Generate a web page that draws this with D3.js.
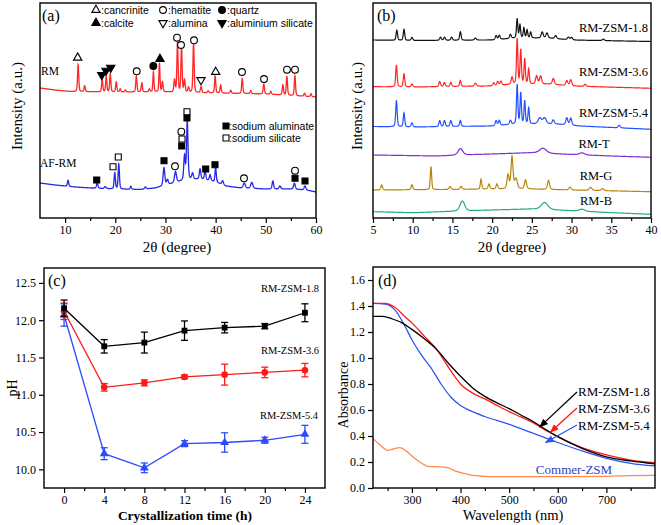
<!DOCTYPE html>
<html><head><meta charset="utf-8">
<script src="https://cdn.jsdelivr.net/npm/d3@7"></script>
<style>body{margin:0;background:#fff}</style>
</head><body><svg id="c" width="661" height="525"></svg>
<script>
// ---------------- DATA ----------------
// (a) XRD: baselines [2theta, intensity], peaks [2theta, height, fwhm]
const rmBase = [[5,130],[8,128],[11,126.5],[20,126],[30,126],[40,125],[50,124],[60,121]];
const rmPeaks = [[12.6,27,0.28],[13.9,6,0.28],[17.4,12,0.28],[18.2,15,0.28],[19.0,18,0.28],[20.2,10,0.28],[21.0,3,0.3],[22.0,2,0.3],[24.2,16,0.28],[25.3,9,0.28],[26.8,3,0.3],[27.6,20,0.25],[28.8,29,0.25],[29.4,10,0.28],[31.8,12,0.3],[32.4,50,0.28],[33.2,45,0.28],[33.8,12,0.3],[34.6,5,0.3],[35.6,50,0.28],[37.1,6,0.3],[38.5,2,0.3],[39.9,17,0.28],[41.0,8,0.28],[43.0,3,0.3],[45.3,15,0.28],[47.0,3,0.3],[49.6,10,0.3],[51.0,3,0.3],[53.4,10,0.3],[54.2,19,0.28],[55.8,20,0.28],[57.7,3,0.3],[59.0,3,0.3]];
const afBase = [[5,35],[8,33],[12,31],[15,30],[20,29],[25,28.5],[28,30],[31,34],[34,38],[37,39],[40,36],[42,32],[45,30],[50,29],[55,29],[58,28],[60,26]];
const afPeaks = [[10.6,6,0.3],[16.4,5,0.35],[18.0,2,0.4],[19.9,16,0.3],[20.7,25,0.3],[23.1,3,0.3],[26.0,2,0.4],[29.7,18,0.4],[30.4,5,0.4],[32.0,11,0.45],[33.8,24,0.35],[34.35,58,0.35],[35.4,6,0.4],[36.9,10,0.35],[37.9,9,0.35],[38.9,6,0.35],[40.0,14,0.3],[41.4,4,0.4],[45.7,5,0.5],[47.2,6,0.5],[51.4,8,0.35],[52.8,3,0.4],[55.7,6,0.4],[57.8,4,0.4]];
// phase markers [2theta, intensity, symbol]
const rmMarks = [[12.51,160.3,"tu"],[17.30,143,"fd"],[18.15,147.3,"fd"],[19.09,150.3,"fd"],[24.27,146.7,"oc"],[27.58,152,"fc"],[28.91,159,"fu"],[32.30,180.3,"oc"],[33.10,173,"oc"],[35.69,177.7,"oc"],[37.08,138,"td"],[40.01,146,"tu"],[45.25,146,"oc"],[49.64,139,"oc"],[54.22,148.3,"oc"],[55.82,148.3,"oc"]];
const afMarks = [[16.30,38,"fs"],[19.55,51.3,"os"],[20.60,61,"os"],[29.71,57.3,"fs"],[31.90,51.7,"oc"],[33.24,72,"fs"],[33.30,79,"os"],[33.16,86.3,"oc"],[34.29,100,"fs"],[34.29,106.3,"os"],[38.02,49,"fs"],[39.87,53.3,"fs"],[45.65,39.7,"oc"],[55.82,47.3,"oc"],[55.82,39.7,"fs"],[57.81,37,"fs"]];
const legendA = [["tu",":cancrinite"],["oc",":hematite"],["fc",":quartz"],["fu",":calcite"],["td",":alumina"],["fd",":aluminium silicate"]];
const legendA2 = [["fs",":sodium aluminate"],["os",":sodium silicate"]];
const aTicks = [10,20,30,40,50,60];

// (b) XRD
const bNames = ["RM-ZSM-1.8","RM-ZSM-3.6","RM-ZSM-5.4","RM-T","RM-G","RM-B"];
const b18Base = [[5,178],[10,177.5],[20,178],[23,180],[27,180],[30,178],[40,176.5]];
const b18Peaks = [[8.0,10,0.22],[8.9,11,0.22],[9.9,3,0.25],[13.5,3,0.25],[14.0,3,0.25],[14.9,3,0.25],[16.0,8.5,0.22],[17.9,2,0.3],[20.5,4,0.25],[20.9,4,0.25],[22.3,4,0.25],[23.15,19,0.2],[23.5,13,0.2],[24.0,10,0.2],[24.4,8,0.2],[24.85,6,0.2],[26.3,6,0.3],[26.9,5,0.3],[28.0,3,0.3],[29.6,2.5,0.3],[30.0,2.5,0.3],[34.0,1.5,0.3]];
const b36Base = [[5,131.3],[10,131],[20,132],[23,134],[27,134],[30,132],[40,129.7]];
const b36Peaks = [[7.95,21.5,0.22],[8.9,13,0.22],[9.9,3,0.25],[13.4,5,0.25],[14.0,4,0.25],[14.8,4,0.25],[16.0,6,0.22],[17.9,3,0.3],[20.2,3,0.25],[20.7,4,0.25],[21.1,4,0.25],[22.5,7,0.25],[23.15,45,0.2],[23.6,34,0.2],[24.1,25,0.2],[24.6,15,0.2],[25.6,8,0.3],[26.1,8,0.3],[27.7,6,0.3],[29.4,5,0.3],[29.9,6,0.3],[31.7,2,0.3]];
const b54Base = [[5,91.5],[10,91],[20,92],[23,94],[28,94],[31,92],[40,88.7]];
const b54Peaks = [[7.95,26,0.22],[8.9,14,0.22],[9.9,4,0.25],[13.4,6,0.25],[14.0,6,0.25],[14.8,6,0.25],[16.0,6,0.22],[20.5,5,0.25],[20.9,5,0.25],[22.3,4,0.25],[23.15,39,0.2],[23.6,31,0.2],[24.1,23,0.2],[24.6,16,0.2],[26.0,6,0.5],[26.6,6,0.5],[27.7,4,0.3],[29.4,7,0.3],[29.9,7,0.3],[36.0,2.5,0.3]];
const bTBase = [[5,63],[13,62],[18,63.5],[25,65.3],[30,63.5],[35,62],[40,60.7]];
const bTPeaks = [[16.0,6.5,0.7],[26.4,5,1.0],[31.3,2,0.8]];
const bGBase = [[5,28],[15,28.5],[20,29],[25,29],[30,28],[40,26.3]];
const bGPeaks = [[6.1,5,0.25],[9.9,5,0.25],[12.3,23,0.2],[14.7,3,0.3],[16.1,3,0.3],[18.6,10,0.2],[19.6,5,0.25],[20.6,5,0.25],[22.0,14,0.3],[22.5,32,0.3],[23.0,10,0.4],[24.2,9,0.3],[27.1,9,0.3],[29.8,3,0.3],[32.4,3,0.4],[33.9,2,0.4]];
const bBBase = [[5,6.3],[10,5.3],[20,8],[25,9],[30,7.3],[35,5.3],[40,3.7]];
const bBPeaks = [[16.25,10,0.7],[26.6,7,1.0],[31.3,2,0.8]];
const bTicks = [5,10,15,20,25,30,35,40];

// (c) pH
const cTime = [0,4,8,12,16,20,24];
const ph18 = [12.16,11.65,11.70,11.86,11.90,11.92,12.10];
const ph18err = [0.11,0.09,0.14,0.13,0.07,0.035,0.12];
const ph36 = [12.12,11.10,11.16,11.24,11.27,11.30,11.33];
const ph36err = [0.11,0.05,0.04,0.025,0.14,0.07,0.09];
const ph54 = [12.07,10.21,10.02,10.345,10.36,10.39,10.47];
const ph54err = [0.15,0.08,0.065,0.04,0.13,0.04,0.12];
const cYTicks = [10.0,10.5,11.0,11.5,12.0,12.5];

// (d) UV-vis [wavelength, absorbance]
const uv18 = [[220,1.32],[240,1.32],[260,1.30],[280,1.27],[300,1.22],[325,1.15],[350,1.07],[375,0.96],[400,0.86],[425,0.77],[450,0.705],[475,0.655],[500,0.61],[525,0.56],[550,0.51],[575,0.45],[600,0.395],[650,0.305],[700,0.24],[750,0.208],[800,0.185]];
const uv36 = [[220,1.42],[245,1.42],[265,1.39],[285,1.32],[300,1.27],[325,1.17],[350,1.07],[375,0.93],[400,0.80],[425,0.73],[450,0.685],[475,0.635],[500,0.587],[525,0.545],[550,0.50],[575,0.445],[600,0.395],[650,0.31],[700,0.254],[750,0.215],[800,0.195]];
const uv54 = [[220,1.42],[245,1.415],[265,1.37],[285,1.25],[300,1.14],[320,1.02],[340,0.92],[360,0.80],[380,0.70],[400,0.635],[420,0.595],[450,0.55],[500,0.49],[550,0.42],[600,0.35],[650,0.285],[700,0.228],[750,0.19],[800,0.17]];
const uvCom = [[220,0.38],[235,0.33],[250,0.29],[262,0.30],[275,0.31],[290,0.28],[305,0.23],[320,0.19],[335,0.165],[360,0.163],[375,0.155],[390,0.13],[410,0.11],[430,0.095],[460,0.088],[500,0.087],[600,0.087],[700,0.09],[750,0.095],[800,0.097]];
const dXTicks = [300,400,500,600,700];
const dYTicks = [0,0.2,0.4,0.6,0.8,1.0,1.2,1.4,1.6];

// ---------------- DRAW ----------------
const SERIF = '"Liberation Serif","Times New Roman",serif';
const SANS = '"Liberation Sans",Arial,sans-serif';
const svg = d3.select("#c");

function baseAt(base, t){
  for (let i=1;i<base.length;i++){
    if (t<=base[i][0]){ const [x0,y0]=base[i-1],[x1,y1]=base[i]; return y0+(y1-y0)*(t-x0)/(x1-x0); }
  }
  return base[base.length-1][1];
}
function pattern(base, peaks, lo, hi, step){
  return d3.range(lo, hi+step/2, step).map(t=>{
    let v = baseAt(base,t);
    for (const [p,h,w] of peaks){ const d=(t-p)/(w/2); v += h*(0.35/(1+d*d)+0.65*Math.exp(-0.693*d*d)); }
    return [t,v];
  });
}
function frame(x0,y0,x1,y1){
  svg.append("rect").attr("x",x0).attr("y",y0).attr("width",x1-x0).attr("height",y1-y0)
    .attr("fill","none").attr("stroke","#000").attr("stroke-width",1.4);
}
function txt(x,y,s,opt={}){
  const t = svg.append("text").attr("x",x).attr("y",y).attr("dy","0.35em").text(s)
    .style("font-family",opt.family||SERIF).style("font-size",(opt.size||12)+"px")
    .attr("text-anchor",opt.anchor||"middle").attr("fill",opt.fill||"#000");
  if (opt.weight) t.style("font-weight",opt.weight);
  if (opt.rotate) t.attr("transform",`rotate(-90,${x},${y})`);
  return t;
}
function xAxis(scale, y, majors, minors, fmt){
  const g = svg.append("g").attr("transform",`translate(0,${y})`);
  g.call(d3.axisBottom(scale).tickValues(majors).tickSize(5).tickPadding(2).tickFormat(fmt||d3.format("d")));
  g.select(".domain").remove();
  g.selectAll("text").style("font-family",SERIF).style("font-size","12px");
  g.selectAll("line").attr("stroke-width",1.2);
  const m = svg.append("g").attr("transform",`translate(0,${y})`);
  m.call(d3.axisBottom(scale).tickValues(minors).tickSize(3).tickFormat(""));
  m.select(".domain").remove();
  m.selectAll("line").attr("stroke-width",1.2);
}
function yAxis(scale, x, majors, fmt){
  const g = svg.append("g").attr("transform",`translate(${x},0)`);
  g.call(d3.axisLeft(scale).tickValues(majors).tickSize(5).tickPadding(3).tickFormat(fmt));
  g.select(".domain").remove();
  g.selectAll("text").style("font-family",SERIF).style("font-size","12px");
  g.selectAll("line").attr("stroke-width",1.2);
}
const symTri = d3.symbol().type(d3.symbolTriangle).size(30)();
const symCir = d3.symbol().type(d3.symbolCircle).size(36)();
const symSq = d3.symbol().type(d3.symbolSquare).size(36)();
function mark(x,y,code){
  const shape = code[1]==="c"?symCir:code[1]==="s"?symSq:symTri;
  const rot = code[1]==="d"?180:0;
  const filled = code[0]==="f";
  svg.append("path").attr("d",shape).attr("transform",`translate(${x},${y}) rotate(${rot})`)
    .attr("fill",filled?"#000":"#fff").attr("stroke","#000").attr("stroke-width",1.1);
}

// ===== Panel (a) =====
const aX = d3.scaleLinear().domain([5,60]).range([40,316]);
const aY = d3.scaleLinear().domain([0,215]).range([218,3]);
const lineA = d3.line().x(d=>aX(d[0])).y(d=>aY(d[1]));
svg.append("path").datum(pattern(rmBase,rmPeaks,5,60,0.03)).attr("d",lineA)
  .attr("fill","none").attr("stroke","#ff2626").attr("stroke-width",1.3);
svg.append("path").datum(pattern(afBase,afPeaks,5,60,0.03)).attr("d",lineA)
  .attr("fill","none").attr("stroke","#2626e8").attr("stroke-width",1.3);
rmMarks.forEach(([t,v,c])=>mark(aX(t),aY(v),c));
afMarks.forEach(([t,v,c])=>mark(aX(t),aY(v),c));
frame(40,3,316,218);
xAxis(aX,218,aTicks,[15,25,35,45,55]);
legendA.forEach(([c,s],i)=>{
  const col=i%3,row=Math.floor(i/3);
  const x=[96,163,222][col], y=[10,23][row];
  mark(x,y,c); txt(x+5,y,s,{family:SANS,size:10.5,anchor:"start"});
});
legendA2.forEach(([c,s],i)=>{
  const x=226,y=[126,138][i];
  mark(x,y,c); txt(x+3,y,s,{family:SANS,size:10.5,anchor:"start"});
});
txt(42,15,"(a)",{size:16,anchor:"start"});
txt(41,71,"RM",{size:11.5,anchor:"start"});
txt(40,163,"AF-RM",{size:11.5,anchor:"start"});
txt(177,247,"2θ (degree)",{size:15});
txt(17,106,"Intensity (a.u.)",{size:15,rotate:true});

// ===== Panel (b) =====
const bX = d3.scaleLinear().domain([5,40]).range([373,651]);
const bY = d3.scaleLinear().domain([0,215]).range([218,3]);
const lineB = d3.line().x(d=>bX(d[0])).y(d=>bY(d[1]));
const bSeries = [[b18Base,b18Peaks,"#111111"],[b36Base,b36Peaks,"#ff2222"],[b54Base,b54Peaks,"#2450ff"],[bTBase,bTPeaks,"#7d2fd6"],[bGBase,bGPeaks,"#b8860b"],[bBBase,bBPeaks,"#1fae82"]];
bSeries.forEach(([b,p,c])=>{
  svg.append("path").datum(pattern(b,p,5,40,0.02)).attr("d",lineB)
    .attr("fill","none").attr("stroke",c).attr("stroke-width",1.2);
});
frame(373,3,651,218);
xAxis(bX,218,bTicks,[7.5,12.5,17.5,22.5,27.5,32.5,37.5]);
txt(648,28,bNames[0],{size:12.5,anchor:"end"});
txt(648,72,bNames[1],{size:12.5,anchor:"end"});
txt(648,113,bNames[2],{size:12.5,anchor:"end"});
txt(594,144,bNames[3],{size:12.5});
txt(596,176,bNames[4],{size:12.5});
txt(596,201,bNames[5],{size:12.5});
txt(377,15,"(b)",{size:16,anchor:"start"});
txt(512,247,"2θ (degree)",{size:15});
txt(357,106,"Intensity (a.u.)",{size:15,rotate:true});

// ===== Panel (c) =====
const cX = d3.scaleLinear().domain([-2,26]).range([44,325]);
const cY = d3.scaleLinear().domain([9.75,12.7]).range([488,268]);
const lineC = d3.line().x((d,i)=>cX(cTime[i])).y(d=>cY(d));
const cSeries = [[ph18,ph18err,"#000000","s"],[ph36,ph36err,"#ff1a1a","c"],[ph54,ph54err,"#2a4bff","t"]];
cSeries.slice().reverse().forEach(([v,e,col,sh])=>{
  svg.append("path").datum(v).attr("d",lineC).attr("fill","none").attr("stroke",col).attr("stroke-width",1.3);
  v.forEach((val,i)=>{
    const x=cX(cTime[i]);
    const g=svg.append("g").attr("stroke",col).attr("stroke-width",1.3);
    g.append("line").attr("x1",x).attr("x2",x).attr("y1",cY(val-e[i])).attr("y2",cY(val+e[i]));
    g.append("line").attr("x1",x-3.5).attr("x2",x+3.5).attr("y1",cY(val-e[i])).attr("y2",cY(val-e[i]));
    g.append("line").attr("x1",x-3.5).attr("x2",x+3.5).attr("y1",cY(val+e[i])).attr("y2",cY(val+e[i]));
    const shp = sh==="s"?d3.symbol().type(d3.symbolSquare).size(34)():sh==="c"?d3.symbol().type(d3.symbolCircle).size(34)():d3.symbol().type(d3.symbolTriangle).size(34)();
    svg.append("path").attr("d",shp).attr("transform",`translate(${x},${cY(val)})`).attr("fill",col);
  });
});
frame(44,268,325,488);
xAxis(cX,488,cTime,[2,6,10,14,18,22]);
yAxis(cY,44,cYTicks,d3.format(".1f"));
txt(290,288,"RM-ZSM-1.8",{size:10.5});
txt(290,350,"RM-ZSM-3.6",{size:10.5});
txt(289,415,"RM-ZSM-5.4",{size:10.5});
txt(48,280,"(c)",{size:16,anchor:"start"});
txt(185,515,"Crystallization time (h)",{size:13.5,weight:"bold"});
txt(12,388,"pH",{size:14,rotate:true});

// ===== Panel (d) =====
const dX = d3.scaleLinear().domain([220,800]).range([373,655]);
const dY = d3.scaleLinear().domain([0,1.7]).range([488,267]);
const lineD = d3.line().x(d=>dX(d[0])).y(d=>dY(d[1])).curve(d3.curveMonotoneX);
[[uvCom,"#ff8a50"],[uv54,"#2f55f0"],[uv36,"#ff1a1a"],[uv18,"#000000"]].forEach(([d,c])=>{
  svg.append("path").datum(d).attr("d",lineD).attr("fill","none").attr("stroke",c).attr("stroke-width",1.3);
});
frame(373,267,655,488);
xAxis(dX,488,dXTicks,[250,350,450,550,650,750]);
yAxis(dY,373,dYTicks,d3.format(".1f"));
const defs = svg.append("defs");
[["k","#000"],["r","#ff1a1a"],["b","#2f55f0"]].forEach(([id,c])=>{
  defs.append("marker").attr("id","ar"+id).attr("viewBox","0 0 10 10").attr("refX",9).attr("refY",5)
    .attr("markerWidth",9).attr("markerHeight",9).attr("markerUnits","userSpaceOnUse").attr("orient","auto")
    .append("path").attr("d","M0,1 L10,5 L0,9 z").attr("fill",c);
});
const arrows = [[[577,392],[563,0.47],"k","#000"],[[577,408],[585,0.43],"r","#ff1a1a"],[[577,425],[575,0.35],"b","#2f55f0"]];
arrows.forEach(([s,tip,id,c])=>{
  svg.append("line").attr("x1",s[0]).attr("y1",s[1]).attr("x2",dX(tip[0])).attr("y2",dY(tip[1]))
    .attr("stroke",c).attr("stroke-width",1.3).attr("marker-end",`url(#ar${id})`);
});
txt(578,391,"RM-ZSM-1.8",{size:13,anchor:"start"});
txt(578,408,"RM-ZSM-3.6",{size:13,anchor:"start"});
txt(578,425,"RM-ZSM-5.4",{size:13,anchor:"start"});
txt(574,469,"Commer-ZSM",{size:13,fill:"#2b3fc4"});
txt(378,280,"(d)",{size:16,anchor:"start"});
txt(513,515,"Wavelength (nm)",{size:14.5});
txt(343,395,"Absorbance",{size:14,rotate:true});
</script></body></html>
